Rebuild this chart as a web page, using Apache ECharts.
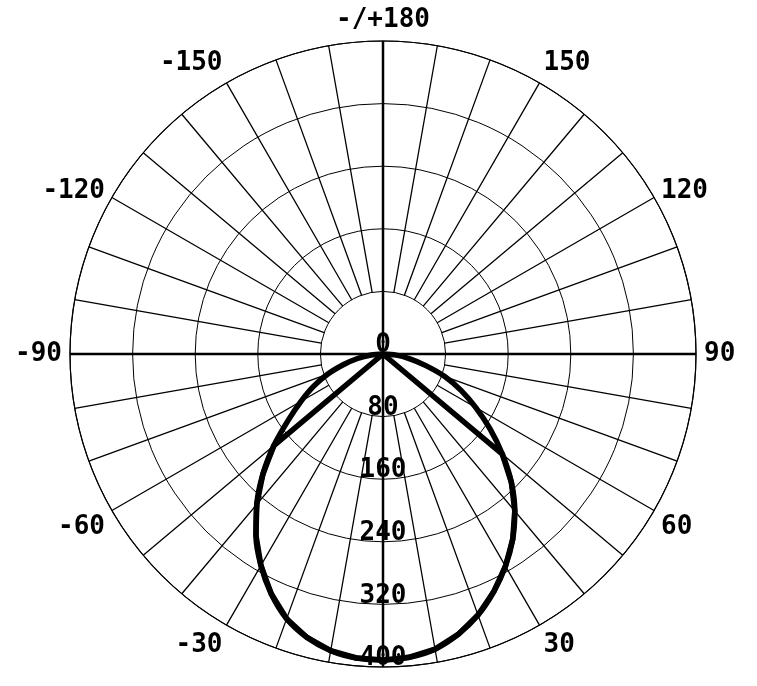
<!DOCTYPE html>
<html><head><meta charset="utf-8">
<script src="https://cdn.jsdelivr.net/npm/echarts@6/dist/echarts.min.js"></script>
<style>html,body{margin:0;padding:0;background:#fff}#c{width:757px;height:686px}</style>
</head><body><div id="c"></div>
<script>
// Curve A (full plane): angle in degrees (0 = down, + = right), value in cd
const anglesA = [-90,-85,-80,-75,-70,-65,-60,-55,-50,-45,-40,-35,-30,-25,-20,-15,-10,-5,0,5,10,15,20,25,30,35,40,45,50,55,60,65,70,75,80,85,90];
const valuesA = [0,15,33,52,75,98,121,148,182,217,251,283,312,338,360,375,385,390,391,389,383,371,355,335,313,289,262,232,199,167,137,110,84,56,34,17,0];
// Curve B (cut-off plane): same shape between -50 and 50, then straight to centre
const anglesB = [-50,-50,-45,-40,-35,-30,-25,-20,-15,-10,-5,0,5,10,15,20,25,30,35,40,45,50,50];
const valuesB = [0,182,217,251,283,312,338,360,375,385,390,391,389,383,371,355,335,313,289,262,232,199,0];
const radiusTicks = [0,80,160,240,320,400];
const angleTickLabels = {30:'30',60:'60',90:'90',120:'120',150:'150',180:'-/+180',210:'-150',240:'-120',270:'-90',300:'-60',330:'-30'};

function toAxisAngle(a){ return a < 0 ? a + 360 : a; }
const dataA = anglesA.map((a,i)=>[valuesA[i], toAxisAngle(a)]);
const dataB = anglesB.map((a,i)=>[valuesB[i], toAxisAngle(a)]);

const font = {fontFamily:'DejaVu Sans Mono', fontWeight:'bold', fontSize:26, color:'#000'};
const chart = echarts.init(document.getElementById('c'), null, {renderer:'canvas'});
chart.setOption({
  animation:false,
  backgroundColor:'#fff',
  polar:[
    {center:[383,354], radius:[0,313]},
    {center:[383,354], radius:[62.6,313]}
  ],
  angleAxis:[
    {polarIndex:0, type:'value', min:0, max:360, interval:90, startAngle:270, clockwise:false,
     axisLine:{show:true, lineStyle:{color:'#000', width:1.2}}, axisTick:{show:false}, axisLabel:{show:false},
     splitLine:{show:true, lineStyle:{color:'#000', width:2.5}}},
    {polarIndex:1, type:'value', min:0, max:360, interval:10, startAngle:270, clockwise:false,
     axisLine:{show:false}, axisTick:{show:false},
     axisLabel:Object.assign({show:true, margin:8,
       formatter:v=>{ const t = angleTickLabels[v]; if(!t) return ''; return (v===120||v===240) ? '{mid|'+t+'}' : t; },
       rich:{mid:Object.assign({lineHeight:4}, font)}}, font),
     splitLine:{show:true, lineStyle:{color:'#000', width:1.3}}}
  ],
  radiusAxis:[
    {polarIndex:0, type:'value', min:radiusTicks[0], max:radiusTicks[radiusTicks.length-1], interval:80,
     axisLine:{show:false}, axisTick:{show:false},
     axisLabel:Object.assign({show:true, margin:0, align:'center', verticalAlign:'bottom', lineHeight:17, showMinLabel:true, showMaxLabel:true, hideOverlap:false}, font),
     splitLine:{show:true, lineStyle:{color:'#000', width:1}}},
    {polarIndex:1, type:'value', min:0, max:400, show:false}
  ],
  series:[
    {type:'line', coordinateSystem:'polar', polarIndex:0, data:dataA, symbol:'none', smooth:0.3, lineStyle:{color:'#000', width:5.5}, z:5},
    {type:'line', coordinateSystem:'polar', polarIndex:0, data:dataB, symbol:'none', lineStyle:{color:'#000', width:5.5, join:'round'}, z:5}
  ]
});
</script></body></html>
